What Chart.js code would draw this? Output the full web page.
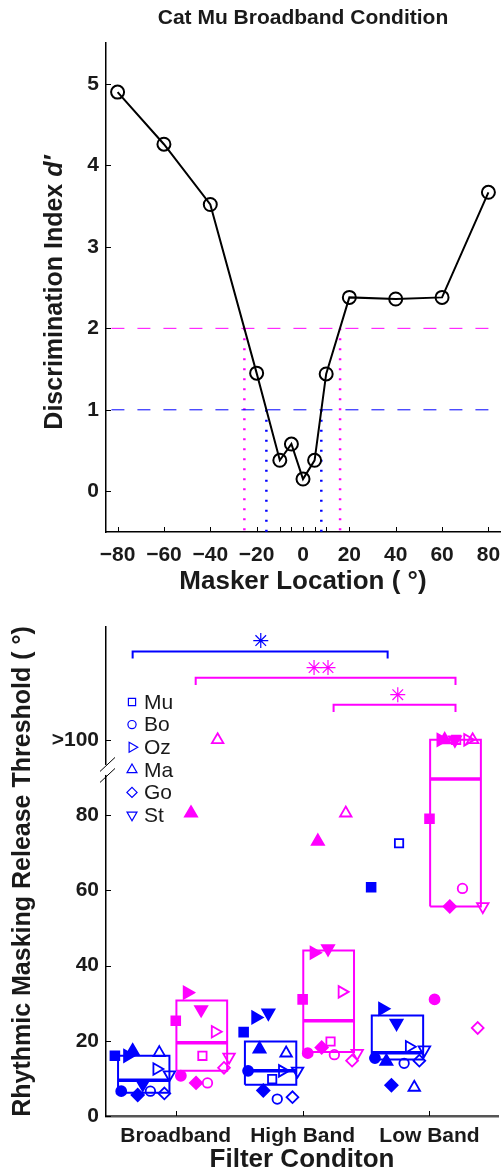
<!DOCTYPE html>
<html>
<head>
<meta charset="utf-8">
<script src="https://cdn.jsdelivr.net/npm/chart.js@4.4.1/dist/chart.umd.min.js"></script>
<style>
  body { margin: 0; background: #fff; }
  canvas { display: block; }
</style>
</head>
<body>
<canvas id="topChart" width="502" height="600"></canvas>
<canvas id="bottomChart" width="502" height="574"></canvas>
<script>
// ---- top panel: d' against masker location
const maskerLoc = [-80, -60, -40, -20, -10, -5, 0, 5, 10, 20, 40, 60, 80];
const dPrime = [4.90, 4.26, 3.52, 1.45, 0.38, 0.58, 0.15, 0.38, 1.44, 2.38, 2.36, 2.38, 3.67];
const topXTicks = [-80, -60, -40, -20, -10, -5, 0, 5, 10, 20, 40, 60, 80];
const topYTicks = [0, 1, 2, 3, 4, 5];
const criterion = [2, 1];            // magenta, blue
const crossMagenta = [-25.3, 16.0];
const crossBlue = [-15.8, 7.9];

// ---- bottom panel: thresholds per cat, [x, value]
// first six are filled markers, last six open, both in cats order
const cats = ['Mu', 'Bo', 'Oz', 'Ma', 'Go', 'St'];
const conditions = ['Broadband', 'High Band', 'Low Band'];
const bottomYTicks = [0, 20, 40, 60, 80, 100];
const bbBlue = [[0.52, 16], [0.57, 6.6], [0.62, 16], [0.66, 17.3], [0.70, 5.6], [0.74, 8.5],
                [0.76, null], [0.80, 6.6], [0.85, 12.5], [0.87, 16.8], [0.91, 6], [0.95, 11]];
const bbMagenta = [[1.00, 25.3], [1.04, 10.7], [1.09, 32.8], [1.12, 80.5], [1.16, 8.8], [1.20, 28.3],
                   [1.21, 16], [1.25, 8.8], [1.31, 22.4], [1.33, 100], [1.38, 12.8], [1.42, 15.7]];
const hbBlue = [[1.535, 22.3], [1.57, 12], [1.63, 26.2], [1.66, 17.8], [1.69, 6.8], [1.73, 27.4],
                [1.76, 9.8], [1.80, 4.5], [1.84, 12], [1.87, 16.7], [1.92, 5], [1.96, 12]];
const hbMagenta = [[2.00, 31], [2.04, 16.7], [2.09, 43.4], [2.12, 73], [2.15, 18.2], [2.20, 44.5],
                   [2.22, 19.8], [2.25, 16.3], [2.31, 33], [2.34, 80.5], [2.39, 14.7], [2.43, 16.7]];
const lbBlue = [[2.54, 60.8], [2.57, 15.4], [2.63, 28.5], [2.66, 14.5], [2.70, 8.2], [2.74, 24.7],
                [2.76, 72.5], [2.80, 14], [2.84, 18.4], [2.88, 7.6], [2.92, 14.7], [2.96, 17.6]];
const lbMagenta = [[3.00, 79], [3.04, 31], [3.09, 100], [3.12, 100], [3.16, 55.7], [3.20, 100],
                   [3.21, 100], [3.26, 60.5], [3.30, 100], [3.34, 100], [3.38, 23.4], [3.42, 55.7]];
// box summaries per condition
const blueBoxLow = [6.2, 8.3, 15];
const blueBoxMed = [9.5, 12, 16.8];
const blueBoxHigh = [16, 19.8, 26.7];
const magentaBoxLow = [12, 17, 55.7];
const magentaBoxMed = [19.5, 25.3, 89.6];
const magentaBoxHigh = [30.7, 44, 100];
// significance brackets
const bracketFrom = [0.66, 1.157, 2.244];
const bracketTo = [2.67, 3.205, 3.205];
const bracketY = [123.5, 116.5, 109.3];
const starX = [1.67, 2.09, 2.20, 2.75];
const starY = [126.4, 119.2, 119.2, 112.0];
const breakAt = 92;

const family = '"Liberation Sans", Arial, Helvetica, sans-serif';
const ink = '#1a1a1a';
const blue = '#0000ff';
const magenta = '#ff00ff';
Chart.defaults.font.family = family;
Chart.defaults.color = ink;

const styleOf = ['rect', 'circle', 'triangle', 'triangle', 'rectRot', 'triangle'];
const rotOf = [0, 0, 90, 0, 0, 180];
const radOf = [6.2, 5, 7, 7, 6.2, 7];

function fmtMinus(v) { return v < 0 ? '\u2212' + Math.abs(v) : String(v); }

// keep the plot box fixed: no extra room for overhanging tick labels
function fixBox(size) {
  return s => {
    if (s.isHorizontal()) s.height = size; else s.width = size;
    s.paddingLeft = 0; s.paddingRight = 0; s.paddingTop = 0; s.paddingBottom = 0;
  };
}

function segment(points, color, width, dash) {
  return {
    data: points.map(p => ({ x: p[0], y: p[1] })),
    showLine: true, borderColor: color, borderWidth: width, borderDash: dash || [],
    pointRadius: 0, fill: false, tension: 0, order: 3
  };
}

// MATLAB style ticks pointing into the axes
const inwardTicks = {
  id: 'inwardTicks',
  afterDraw(chart, args, opts) {
    const { ctx, chartArea, scales } = chart;
    const len = opts.len || 5;
    ctx.save();
    ctx.strokeStyle = '#000';
    ctx.lineWidth = 1;
    ctx.beginPath();
    scales.x.ticks.forEach(t => {
      const px = Math.round(scales.x.getPixelForValue(t.value)) + 0.5;
      ctx.moveTo(px, chartArea.bottom);
      ctx.lineTo(px, chartArea.bottom - len);
    });
    scales.y.ticks.forEach(t => {
      const py = Math.round(scales.y.getPixelForValue(t.value)) + 0.5;
      ctx.moveTo(chartArea.left, py);
      ctx.lineTo(chartArea.left + len, py);
    });
    ctx.stroke();
    ctx.restore();
  }
};

const dprimeTitle = {
  id: 'dprimeTitle',
  afterDraw(chart) {
    const { ctx, chartArea } = chart;
    const base = 'Discrimination Index ';
    const ital = 'd\u2032';
    ctx.save();
    ctx.translate(55, (chartArea.top + chartArea.bottom) / 2 + 5);
    ctx.rotate(-Math.PI / 2);
    ctx.fillStyle = ink;
    ctx.textBaseline = 'middle';
    ctx.textAlign = 'left';
    ctx.font = 'bold 25px ' + family;
    const w1 = ctx.measureText(base).width;
    ctx.font = 'italic bold 25px ' + family;
    const w2 = ctx.measureText(ital).width;
    const x0 = -(w1 + w2) / 2;
    ctx.font = 'bold 25px ' + family;
    ctx.fillText(base, x0, 0);
    ctx.font = 'italic bold 25px ' + family;
    ctx.fillText(ital, x0 + w1, 0);
    ctx.restore();
  }
};

new Chart(document.getElementById('topChart'), {
  type: 'scatter',
  data: {
    datasets: [
      segment([[80, criterion[0]], [-85, criterion[0]]], magenta, 1, [13, 13]),
      segment([[80, criterion[1]], [-85, criterion[1]]], blue, 1, [13, 13]),
      segment([[crossMagenta[0], criterion[0]], [crossMagenta[0], -0.5]], magenta, 2.5, [2, 8]),
      segment([[crossMagenta[1], criterion[0]], [crossMagenta[1], -0.5]], magenta, 2.5, [2, 8]),
      segment([[crossBlue[0], criterion[1]], [crossBlue[0], -0.5]], blue, 2.5, [2, 8]),
      segment([[crossBlue[1], criterion[1]], [crossBlue[1], -0.5]], blue, 2.5, [2, 8]),
      {
        data: maskerLoc.map((x, i) => ({ x, y: dPrime[i] })),
        showLine: true, borderColor: '#000', borderWidth: 2, tension: 0,
        pointStyle: 'circle', pointRadius: 6.5, pointBorderWidth: 2,
        pointBorderColor: '#000', pointBackgroundColor: 'rgba(0,0,0,0)', order: 0
      }
    ]
  },
  options: {
    responsive: false, animation: false, events: [],
    layout: { autoPadding: false, padding: { left: 0, right: 2, top: 0, bottom: 0 } },
    plugins: {
      legend: { display: false },
      tooltip: { enabled: false },
      title: {
        display: true, text: 'Cat Mu Broadband Condition', fullSize: false, color: ink,
        font: { size: 21, weight: 'bold', lineHeight: 1.2 }, padding: { top: 6, bottom: 12 }
      },
      inwardTicks: { len: 5 }
    },
    scales: {
      x: {
        type: 'linear', min: -85, max: 85,
        afterBuildTicks: s => { s.ticks = topXTicks.map(v => ({ value: v })); },
        afterFit: fixBox(68),
        ticks: {
          autoSkip: false, maxRotation: 0, padding: 11, color: ink,
          font: { size: 21, weight: 'bold' },
          callback: v => (v % 20 === 0 ? fmtMinus(v) : '')
        },
        grid: { display: false, drawTicks: false },
        border: { display: true, color: '#000', width: 1.5 },
        title: {
          display: true, text: 'Masker Location ( \u00b0)', color: ink,
          font: { size: 26, weight: 'bold', lineHeight: 1.2 }, padding: { top: 0, bottom: 3 }
        }
      },
      y: {
        type: 'linear', min: -0.5, max: 5.5,
        afterBuildTicks: s => { s.ticks = topYTicks.map(v => ({ value: v })); },
        afterFit: fixBox(106),
        ticks: { padding: 7, color: ink, font: { size: 21, weight: 'bold' } },
        grid: { display: false, drawTicks: false },
        border: { display: true, color: '#000', width: 1.5 }
      }
    }
  },
  plugins: [inwardTicks, dprimeTitle]
});

// ---- bottom panel
function markerSet(points, color) {
  return {
    data: points.map(p => ({ x: p[0], y: p[1] })),
    showLine: false,
    pointStyle: c => styleOf[c.dataIndex % 6],
    pointRotation: c => rotOf[c.dataIndex % 6],
    pointRadius: c => radOf[c.dataIndex % 6] * (c.dataIndex < 6 ? 1 : 0.95),
    pointBorderWidth: 1.8,
    pointBorderColor: color,
    pointBackgroundColor: c => (c.dataIndex < 6 ? color : 'rgba(0,0,0,0)'),
    order: 1
  };
}

function boxSets(low, med, high, left, right, color) {
  const out = [];
  conditions.forEach((c, i) => {
    const x0 = i + 1 + left, x1 = i + 1 + right;
    out.push(segment([[x0, low[i]], [x1, low[i]], [x1, high[i]], [x0, high[i]], [x0, low[i]]], color, 2));
    out.push(segment([[x0, med[i]], [x1, med[i]]], color, 3.5));
  });
  return out;
}

const bracketColors = [blue, magenta, magenta];
const starColors = [blue, magenta, magenta, magenta];
const bracketSets = bracketFrom.map((f, i) => {
  const d = segment([[f, bracketY[i] - 1.9], [f, bracketY[i]], [bracketTo[i], bracketY[i]], [bracketTo[i], bracketY[i] - 1.9]],
    bracketColors[i], 2);
  d.order = 2;
  return d;
});
const starSet = {
  data: starX.map((x, i) => ({ x, y: starY[i] })),
  pointStyle: 'star', pointRadius: 7.5, pointBorderWidth: 1.2,
  pointBorderColor: starColors, pointBackgroundColor: starColors, order: 2
};

const drawMark = (ctx, style, x, y, r, rot) => {
  if (Chart.helpers && Chart.helpers.drawPoint) {
    Chart.helpers.drawPoint(ctx, { pointStyle: style, radius: r, rotation: rot, borderWidth: 1 }, x, y);
  }
};

const catLegend = {
  id: 'catLegend',
  afterDraw(chart) {
    const { ctx, chartArea } = chart;
    ctx.save();
    ctx.font = '21px ' + family;
    ctx.textBaseline = 'middle';
    ctx.textAlign = 'left';
    cats.forEach((name, i) => {
      const y = chartArea.top + 75 + i * 22.6;
      ctx.strokeStyle = blue;
      ctx.fillStyle = 'rgba(0,0,0,0)';
      ctx.lineWidth = 1.2;
      drawMark(ctx, styleOf[i], 132, y, radOf[i] * 0.82, rotOf[i]);
      ctx.fillStyle = ink;
      ctx.fillText(name, 144, y + 1);
    });
    ctx.restore();
  }
};

const axisBreak = {
  id: 'axisBreak',
  afterDraw(chart) {
    const { ctx, chartArea, scales } = chart;
    const py = scales.y.getPixelForValue(breakAt);
    const x0 = chartArea.left;
    ctx.save();
    ctx.fillStyle = '#fff';
    ctx.fillRect(x0 - 2, py - 5, 4, 10);
    ctx.strokeStyle = '#000';
    ctx.lineWidth = 1;
    [-5.5, 5.5].forEach(d => {
      ctx.beginPath();
      ctx.moveTo(x0 - 6, py + d + 7);
      ctx.lineTo(x0 + 9, py + d - 7);
      ctx.stroke();
    });
    ctx.restore();
  }
};

new Chart(document.getElementById('bottomChart'), {
  type: 'scatter',
  data: {
    datasets: [
      ...boxSets(blueBoxLow, blueBoxMed, blueBoxHigh, -0.455, -0.05, blue),
      ...boxSets(magentaBoxLow, magentaBoxMed, magentaBoxHigh, 0.005, 0.405, magenta),
      ...bracketSets,
      starSet,
      markerSet(bbBlue, blue), markerSet(bbMagenta, magenta),
      markerSet(hbBlue, blue), markerSet(hbMagenta, magenta),
      markerSet(lbBlue, blue), markerSet(lbMagenta, magenta)
    ]
  },
  options: {
    responsive: false, animation: false, events: [],
    layout: { autoPadding: false, padding: { left: 0, right: 4, top: 27, bottom: 0 } },
    plugins: {
      legend: { display: false },
      tooltip: { enabled: false },
      inwardTicks: { len: 5 }
    },
    scales: {
      x: {
        type: 'linear', min: 0.45, max: 3.54,
        afterBuildTicks: s => { s.ticks = conditions.map((c, i) => ({ value: i + 1 })); },
        afterFit: fixBox(58),
        ticks: {
          autoSkip: false, maxRotation: 0, padding: 8, color: ink,
          font: { size: 21, weight: 'bold' },
          callback: v => conditions[v - 1]
        },
        grid: { display: false, drawTicks: false },
        border: { display: true, color: '#555', width: 2.5 },
        title: {
          display: true, text: 'Filter Conditon', color: ink,
          font: { size: 26, weight: 'bold', lineHeight: 1 }, padding: { top: 0, bottom: 1 }
        }
      },
      y: {
        type: 'linear', min: 0, max: 130,
        afterBuildTicks: s => { s.ticks = bottomYTicks.map(v => ({ value: v })); },
        afterFit: fixBox(106),
        ticks: {
          padding: 7, color: ink, font: { size: 21, weight: 'bold' },
          callback: v => (v >= 100 ? '>100' : v)
        },
        grid: { display: false, drawTicks: false },
        border: { display: true, color: '#000', width: 1.5 },
        title: {
          display: true, text: 'Rhythmic Masking Release Threshold ( \u00b0)', color: ink,
          font: { size: 25, weight: 'bold', lineHeight: 1.2 }, padding: { top: 8, bottom: 0 }
        }
      }
    }
  },
  plugins: [inwardTicks, catLegend, axisBreak]
});
</script>
</body>
</html>
